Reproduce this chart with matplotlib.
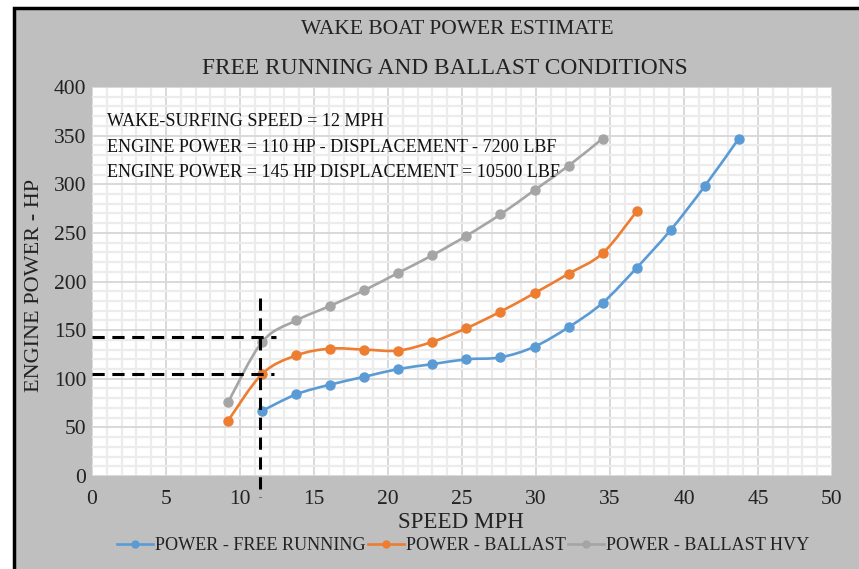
import matplotlib
matplotlib.use("Agg")
import matplotlib.pyplot as plt
from matplotlib.path import Path
from matplotlib.patches import PathPatch, Rectangle
from matplotlib.lines import Line2D
from matplotlib.ticker import MultipleLocator

# values
speed_free = [11.5, 13.8, 16.1, 18.4, 20.7, 23.0, 25.3, 27.6, 29.9, 32.2, 34.5, 36.8, 39.1, 41.4, 43.7]
power_free = [67, 84, 94, 102, 110, 115, 120, 122, 133, 153, 178, 214, 253, 298, 347]

speed_ballast = [9.2, 11.5, 13.8, 16.1, 18.4, 20.7, 23.0, 25.3, 27.6, 29.9, 32.2, 34.5, 36.8]
power_ballast = [57, 105, 124, 131, 130, 129, 138, 152, 169, 188, 208, 229, 272]

speed_hvy = [9.2, 11.5, 13.8, 16.1, 18.4, 20.7, 23.0, 25.3, 27.6, 29.9, 32.2, 34.5]
power_hvy = [76, 138, 160, 175, 191, 209, 227, 247, 269, 294, 319, 347]

series_names = ["POWER - FREE RUNNING", "POWER - BALLAST", "POWER - BALLAST HVY"]
series_colors = ["#5b9bd5", "#ed7d31", "#a5a5a5"]

# dashed guide lines (wake-surfing speed and the two power levels)
surf_speed = 11.35
surf_line_hp = [183, -22]
guide_power = [143, 105]
guide_end_speed = [12.4, 12.3]

notes = ["WAKE-SURFING SPEED = 12 MPH",
         "ENGINE POWER = 110 HP - DISPLACEMENT - 7200 LBF",
         "ENGINE POWER = 145 HP DISPLACEMENT = 10500 LBF"]

plt.rcParams['font.family'] = ['Liberation Serif', 'DejaVu Serif']


def smooth_path(xs, ys):
    # excel style smoothed line: catmull-rom turned into bezier segments
    pts = list(zip(xs, ys))
    verts = [pts[0]]
    codes = [Path.MOVETO]
    n = len(pts)
    for i in range(n - 1):
        p0 = pts[i - 1] if i > 0 else pts[i]
        p1 = pts[i]
        p2 = pts[i + 1]
        p3 = pts[i + 2] if i + 2 < n else pts[i + 1]
        c1 = (p1[0] + (p2[0] - p0[0]) / 6, p1[1] + (p2[1] - p0[1]) / 6)
        c2 = (p2[0] - (p3[0] - p1[0]) / 6, p2[1] - (p3[1] - p1[1]) / 6)
        verts += [c1, c2, p2]
        codes += [Path.CURVE4] * 3
    return Path(verts, codes)


fig = plt.figure(figsize=(8.59, 5.69), dpi=100)
fig.patch.set_facecolor("white")
fig.patches.append(Rectangle((14 / 859, -0.05), 1.0, (569 - 8) / 569 + 0.05,
                             transform=fig.transFigure, facecolor="#bfbfbf",
                             edgecolor="black", lw=2.5, zorder=-1))

ax = fig.add_axes([92 / 859, 93 / 569, 740 / 859, 389 / 569])
ax.set_zorder(2)
ax.set_facecolor("white")
ax.set_xlim(0, 50)
ax.set_ylim(0, 400)
ax.xaxis.set_major_locator(MultipleLocator(5))
ax.xaxis.set_minor_locator(MultipleLocator(1))
ax.yaxis.set_major_locator(MultipleLocator(50))
ax.yaxis.set_minor_locator(MultipleLocator(10))
ax.grid(which="minor", color="#ececec", lw=1.6)
ax.grid(which="major", color="#d9d9d9", lw=1.4)
ax.set_axisbelow(True)
for s in ax.spines.values():
    s.set_visible(False)
ax.tick_params(which="both", length=0, labelsize=15.5, colors="#222222")
ax.tick_params(axis="x", pad=10)
ax.tick_params(axis="y", pad=4)

all_data = [(speed_free, power_free), (speed_ballast, power_ballast), (speed_hvy, power_hvy)]
handles = []
for (xs, ys), name, col in zip(all_data, series_names, series_colors):
    ax.add_patch(PathPatch(smooth_path(xs, ys), facecolor="none", edgecolor=col, lw=1.9, zorder=3))
    ax.plot(xs, ys, "o", color=col, ms=6.5, zorder=4)
    handles.append(Line2D([], [], color=col, lw=1.9, marker="o", ms=5))

# guide lines
ax.plot([surf_speed, surf_speed], surf_line_hp, color="black", lw=2.2,
        dashes=(4, 2.5), clip_on=False, zorder=5)
for hp, xe in zip(guide_power, guide_end_speed):
    ax.plot([0, xe], [hp, hp], color="black", lw=2.2, dashes=(4, 2.5), zorder=5)

for i, t in enumerate(notes):
    ax.text(107 / 859, 1 - (121.5 + i * 25.7) / 569, t, transform=fig.transFigure,
            fontsize=13.1, va="center", ha="left", color="#111111", zorder=6)

fig.text(457 / 859, 1 - 29 / 569, "WAKE BOAT POWER ESTIMATE", ha="center", va="center",
         fontsize=15.5, color="#222222")
fig.text(445 / 859, 1 - 68 / 569, "FREE RUNNING AND BALLAST CONDITIONS", ha="center",
         va="center", fontsize=16.8, color="#222222")
fig.text(35 / 859, 1 - 285 / 569, "ENGINE POWER - HP", rotation=90, ha="center",
         va="center", fontsize=16, color="#222222")
fig.text(461 / 859, 1 - 522 / 569, "SPEED MPH", ha="center", va="center",
         fontsize=16.6, color="#222222")

fig.legend(handles, series_names, loc="center", bbox_to_anchor=(463 / 859, 1 - 545.5 / 569),
           ncol=3, frameon=False, fontsize=13.1, handlelength=2.0, handletextpad=0.1,
           columnspacing=0.1, borderpad=0, labelcolor="#222222")

fig.savefig("out.png", dpi=100)
